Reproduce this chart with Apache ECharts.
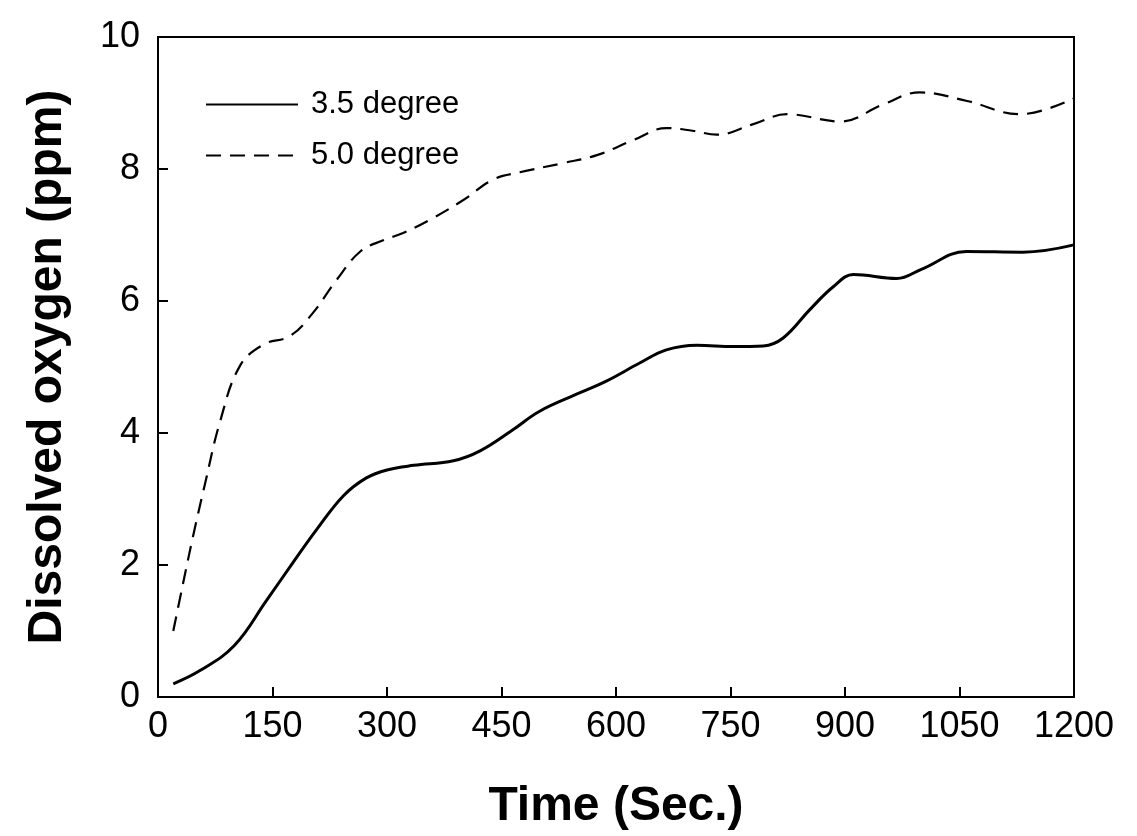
<!DOCTYPE html>
<html>
<head>
<meta charset="utf-8">
<script src="https://cdn.jsdelivr.net/npm/echarts@6/dist/echarts.min.js"></script>
<style>html,body{margin:0;padding:0;background:#fff;}#c{width:1137px;height:836px;}</style>
</head>
<body>
<div id="c"></div>
<script>
var seriesNames = ['3.5 degree', '5.0 degree'];
var xTicks = [0, 150, 300, 450, 600, 750, 900, 1050, 1200];
var yTicks = [0, 2, 4, 6, 8, 10];
var deg35 = [[20,0.2],[55,0.4],[100,0.78],[142,1.46],[177,2.04],[208,2.54],[243,3.05],[273,3.32],[300,3.44],[335,3.51],[387,3.58],[422,3.73],[465,4.05],[500,4.33],[553,4.61],[588,4.79],[631,5.06],[666,5.26],[706,5.33],[754,5.31],[793,5.32],[819,5.44],[854,5.87],[885,6.22],[911,6.40],[968,6.34],[1000,6.48],[1059,6.75],[1133,6.74],[1200,6.85]];
var deg50 = [[20,1.0],[33,1.73],[46,2.44],[62,3.25],[81,4.16],[107,5.01],[138,5.34],[173,5.47],[203,5.82],[234,6.32],[265,6.75],[295,6.92],[321,7.03],[356,7.23],[400,7.53],[439,7.84],[474,7.95],[531,8.09],[575,8.21],[623,8.44],[666,8.62],[700,8.58],[732,8.52],[780,8.68],[824,8.83],[894,8.72],[950,8.98],[998,9.16],[1060,9.03],[1129,8.83],[1200,9.07]];

var chart = echarts.init(document.getElementById('c'));
var font = 'Liberation Sans, Arial, sans-serif';
chart.setOption({
  animation: false,
  backgroundColor: '#fff',
  grid: {left: 158, right: 63, top: 37, bottom: 138, show: true, borderColor: '#000', borderWidth: 2, backgroundColor: 'transparent'},
  legend: {
    orient: 'vertical', left: 200, top: 84, itemWidth: 92, itemHeight: 14, itemGap: 20,
    data: seriesNames,
    itemStyle: {opacity: 0},
    textStyle: {fontFamily: font, fontSize: 31, color: '#000', padding: [0,0,0,8]}
  },
  xAxis: {
    type: 'value', min: 0, max: 1200, interval: 150,
    name: 'Time (Sec.)', nameLocation: 'middle', nameGap: 86,
    nameTextStyle: {fontFamily: font, fontSize: 48, fontWeight: 'bold', color: '#000'},
    axisLine: {show: true, lineStyle: {color: '#000', width: 2}},
    axisTick: {show: true, inside: true, length: 10, lineStyle: {color: '#000', width: 2}},
    axisLabel: {fontFamily: font, fontSize: 36, color: '#000', margin: 12,
      formatter: function(v){ return xTicks.indexOf(v) >= 0 ? String(v) : ''; }},
    splitLine: {show: false}
  },
  yAxis: {
    type: 'value', min: 0, max: 10, interval: 2,
    name: 'Dissolved oxygen (ppm)', nameLocation: 'middle', nameGap: 86,
    nameTextStyle: {fontFamily: font, fontSize: 48, fontWeight: 'bold', color: '#000'},
    axisLine: {show: true, lineStyle: {color: '#000', width: 2}},
    axisTick: {show: true, inside: true, length: 10, lineStyle: {color: '#000', width: 2}},
    axisLabel: {fontFamily: font, fontSize: 36, color: '#000', margin: 18,
      formatter: function(v){ return yTicks.indexOf(v) >= 0 ? String(v) : ''; }},
    splitLine: {show: false}
  },
  series: [
    {name: seriesNames[0], type: 'line', data: deg35, smooth: 0.4, symbol: 'none',
      lineStyle: {color: '#000', width: 3, type: 'solid'}, itemStyle: {color: '#000'}},
    {name: seriesNames[1], type: 'line', data: deg50, smooth: 0.4, symbol: 'none',
      lineStyle: {color: '#000', width: 2.2, type: [15, 9]}, itemStyle: {color: '#000'}}
  ]
});
</script>
</body>
</html>
